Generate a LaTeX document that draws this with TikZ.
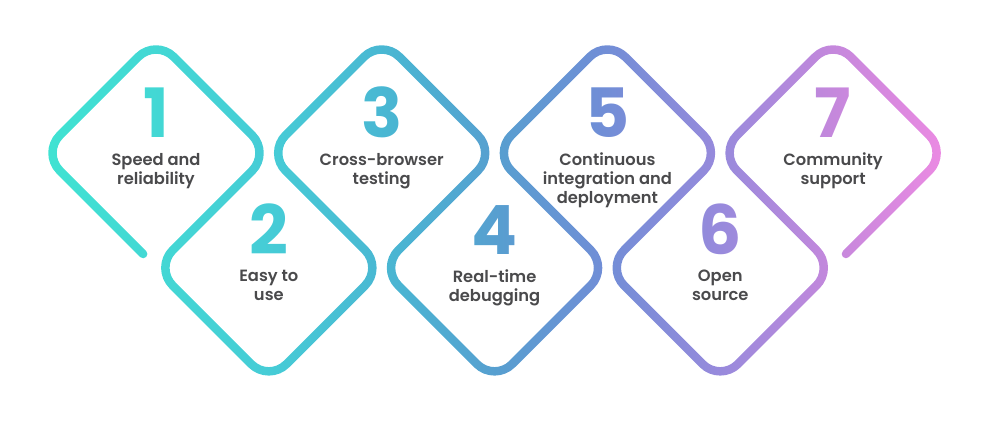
\documentclass[tikz,border=0pt]{standalone}
\usepackage{fontspec}
\setmainfont{Poppins}
\newfontfamily\lblfont{Poppins}[UprightFont=* SemiBold]
\usetikzlibrary{calc}
\definecolor{labelgray}{RGB}{74,74,76}
\definecolor{g0}{RGB}{64,226,210}
\definecolor{g1}{RGB}{70,204,214}
\definecolor{g2}{RGB}{74,180,210}
\definecolor{g3}{RGB}{88,158,208}
\definecolor{g4}{RGB}{112,142,214}
\definecolor{g5}{RGB}{152,138,220}
\definecolor{g6}{RGB}{196,136,220}
\definecolor{g7}{RGB}{234,138,226}
\pgfdeclarehorizontalshading{ribbon}{100bp}{color(0bp)=(g0); color(27.5bp)=(g0); color(38.5bp)=(g1); color(45bp)=(g2); color(50bp)=(g3); color(55bp)=(g4); color(61bp)=(g5); color(66.5bp)=(g6); color(72bp)=(g7); color(100bp)=(g7)}
\tikzset{num/.style={font=\fontsize{68}{68}\selectfont\bfseries, inner sep=0pt, anchor=base},
	lbl/.style={font=\fontsize{16.3}{19}\lblfont, text=labelgray, align=center, inner sep=0pt, anchor=north}}
\begin{document}
\begin{tikzpicture}[x=1pt,y=-1pt, line join=round, line cap=round]
	\fill[white] (0,0) rectangle (1001,422);
	\useasboundingbox (0,0) rectangle (1001,422);
	% centres of the diamonds
	\coordinate (c1) at (156,153); \coordinate (c2) at (268.85,267.85); \coordinate (c3) at (381.7,153); \coordinate (c4) at (494.55,267.85);
	\coordinate (c5) at (607.4,153); \coordinate (c6) at (720.25,267.85); \coordinate (c7) at (833.1,153);
	% one stroke through all seven
	\draw[line width=8.5pt, rounded corners=25pt] ($(c1)+(-12.85,101)$) -- ++(-101,-101) \foreach \k in {1,2,3}{ -- ++(113.85,-113.85) -- ++(113.85,113.85) -- ++(-114.85,114.85) -- ++(113.85,113.85) -- ++(113.85,-113.85) -- ++(-114.85,-114.85)} -- ++(113.85,-113.85) -- ++(113.85,113.85) -- ++(-101,101);
	\foreach \i in {1,3,5,7} \node[num] (n\i) at ($(c\i)+(0,-15.5)$) {\i};
	\foreach \i in {2,4,6} \node[num] (n\i) at ($(c\i)+(0,-13)$) {\i};
	% colour the stroke and the digits
	\begin{scope}[blend mode=screen]
		\shade[shading=ribbon] (0,0) rectangle (1001,422);
	\end{scope}
	\node[lbl] (t1) at (c1) {Speed and\\reliability};
	\node[lbl] (t2) at ($(c2)+(0,2)$) {Easy to\\use};
	\node[lbl] (t3) at (c3) {Cross-browser\\testing};
	\node[lbl] (t4) at ($(c4)+(0,2)$) {Real-time\\debugging};
	\node[lbl] (t5) at (c5) {Continuous\\integration and\\deployment};
	\node[lbl] (t6) at ($(c6)+(0,2)$) {Open\\source};
	\node[lbl] (t7) at (c7) {Community\\support};
\end{tikzpicture}
\end{document}
